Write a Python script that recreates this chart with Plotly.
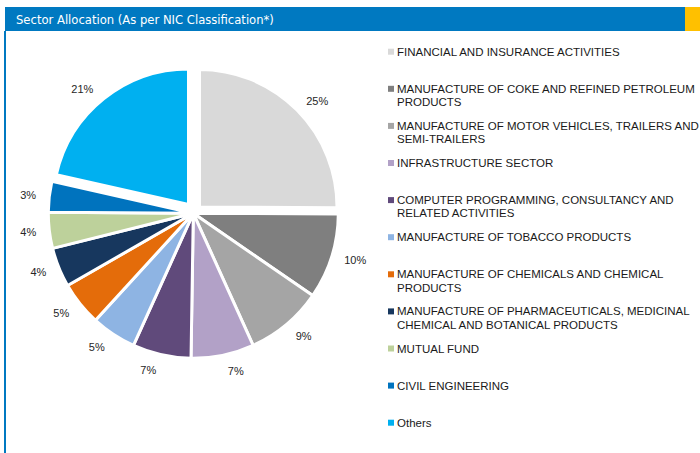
import plotly.graph_objects as go

# ---- data ----
categories = [
    "FINANCIAL AND INSURANCE ACTIVITIES",
    "MANUFACTURE OF COKE AND REFINED PETROLEUM<br>PRODUCTS",
    "MANUFACTURE OF MOTOR VEHICLES, TRAILERS AND<br>SEMI-TRAILERS",
    "INFRASTRUCTURE SECTOR",
    "COMPUTER PROGRAMMING, CONSULTANCY AND<br>RELATED ACTIVITIES",
    "MANUFACTURE OF TOBACCO PRODUCTS",
    "MANUFACTURE OF CHEMICALS AND CHEMICAL<br>PRODUCTS",
    "MANUFACTURE OF PHARMACEUTICALS, MEDICINAL<br>CHEMICAL AND BOTANICAL PRODUCTS",
    "MUTUAL FUND",
    "CIVIL ENGINEERING",
    "Others",
]
values = [25.0, 9.5, 8.6, 7.0, 6.5, 5.0, 4.9, 4.4, 4.0, 3.4, 21.4]
colors = ["#D9D9D9", "#7F7F7F", "#A5A5A5", "#B2A1C7", "#604A7B", "#8EB4E3",
          "#E46C0A", "#17375E", "#BDD19B", "#0073BE", "#00B0F0"]
title_text = "Sector Allocation (As per NIC Classification*)"

W, H = 700, 453
CLEAR = "rgba(0,0,0,0)"


def px_x(x):
    return x / W


def px_y(y):
    return (H - y) / H


def pie_domain(cx, cy, r):
    return dict(x=[px_x(cx - r), px_x(cx + r)], y=[px_y(cy + r), px_y(cy - r)])


labels_flat = [c.replace("<br>", " ") for c in categories]
total = sum(values)
pct_text = [f"{round(v / total * 100)}%" for v in values]

# exploded slices (index: (centre x, centre y, radius)) in pixels
exploded = {0: (199.5, 207, 137.5), 10: (188.5, 204.5, 135.5)}
main_geom = (193.3, 213.3, 145)

fig = go.Figure()


def add_pie(visible_idx, geom):
    cx, cy, r = geom
    cols = [colors[i] if i in visible_idx else CLEAR for i in range(len(values))]
    widths = [3 if i in visible_idx else 0 for i in range(len(values))]
    fig.add_trace(go.Pie(
        labels=labels_flat, values=values, sort=False,
        direction="clockwise", rotation=0,
        marker=dict(colors=cols, line=dict(color="white", width=widths)),
        textinfo="none", hoverinfo="skip", showlegend=False,
        domain=pie_domain(cx, cy, r),
    ))


# body of the pie (non-exploded slices)
add_pie([i for i in range(len(values)) if i not in exploded], main_geom)
# exploded slices
for idx, geom in exploded.items():
    add_pie([idx], geom)

# percentage labels, placed just outside a slightly larger invisible ring
cx, cy, r = main_geom
fig.add_trace(go.Pie(
    labels=labels_flat, values=values, sort=False,
    direction="clockwise", rotation=0,
    marker=dict(colors=[CLEAR] * len(values), line=dict(width=0)),
    text=pct_text, textinfo="text", textposition="outside",
    textfont=dict(family="Liberation Sans, Arial", size=11, color="#262626"),
    hoverinfo="skip", showlegend=False,
    domain=pie_domain(cx, cy, r + 10),
))

shapes = []
annotations = []

# title bar
shapes.append(dict(type="rect", xref="paper", yref="paper",
                   x0=px_x(5), x1=px_x(685), y0=px_y(31), y1=px_y(7),
                   fillcolor="#0079C1", line=dict(width=0), layer="below"))
shapes.append(dict(type="rect", xref="paper", yref="paper",
                   x0=px_x(685), x1=px_x(700), y0=px_y(31), y1=px_y(7),
                   fillcolor="#FFC000", line=dict(width=0), layer="below"))
shapes.append(dict(type="rect", xref="paper", yref="paper",
                   x0=px_x(4), x1=px_x(6), y0=px_y(453), y1=px_y(31),
                   fillcolor="#0079C1", line=dict(width=0), layer="below"))
annotations.append(dict(text=title_text, xref="paper", yref="paper",
                        x=px_x(14), y=px_y(19.5), xanchor="left", yanchor="middle",
                        showarrow=False,
                        font=dict(family="DejaVu Sans Condensed, Liberation Sans Narrow",
                                  size=12.9, color="white")))

# custom legend
leg_top, leg_step, line_h = 51.7, 37.1, 13.3
for i, (cat, col) in enumerate(zip(categories, colors)):
    yc = leg_top + i * leg_step
    shapes.append(dict(type="rect", xref="paper", yref="paper",
                       x0=px_x(388), x1=px_x(394), y0=px_y(yc + 3), y1=px_y(yc - 3),
                       fillcolor=col, line=dict(width=0)))
    for j, line in enumerate(cat.split("<br>")):
        annotations.append(dict(text=line, xref="paper", yref="paper",
                                x=px_x(395), y=px_y(yc + j * line_h),
                                xanchor="left", yanchor="middle", showarrow=False,
                                font=dict(family="Liberation Sans, Arial", size=11.5,
                                          color="#1a1a1a")))

fig.update_layout(
    width=W, height=H,
    margin=dict(l=0, r=0, t=0, b=0),
    paper_bgcolor="white", plot_bgcolor="white",
    shapes=shapes, annotations=annotations,
)

fig.write_html("out.html", config={"displayModeBar": False},
               post_script="document.body.style.margin='0';")
